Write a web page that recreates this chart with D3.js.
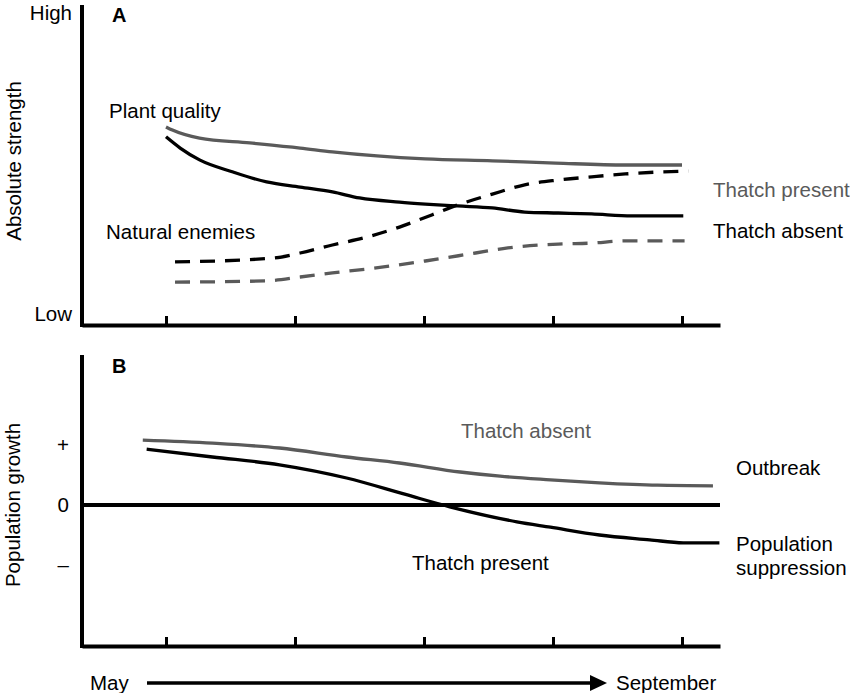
<!DOCTYPE html>
<html>
<head>
<meta charset="utf-8">
<script src="https://cdn.jsdelivr.net/npm/d3@7"></script>
<style>
  html, body { margin: 0; padding: 0; background: #fff; }
  svg text { font-family: "Liberation Sans", Arial, Helvetica, sans-serif; }
</style>
</head>
<body>
<svg id="chart" width="850" height="693"></svg>
<script>
// ---------- DATA (x = month index, 0 = May ... 4 = September) ----------
const monthTicks = [0, 1, 2, 3, 4];

// Panel A: absolute strength (0 = Low, 100 = High)
const plantThatchPresent_t = [0, 0.05, 0.26, 0.65, 1.04, 1.29, 2.01, 2.53, 3.02, 3.56, 4.0];
const plantThatchPresent_v = [61.9, 60.9, 58.4, 56.9, 55.3, 54.1, 51.9, 51.3, 50.6, 50.0, 50.0];

const plantThatchAbsent_t = [0, 0.11, 0.26, 0.52, 0.78, 1.04, 1.29, 1.5, 1.81, 2.01, 2.26, 2.53, 2.78, 3.04, 3.3, 3.61, 4.01];
const plantThatchAbsent_v = [58.8, 55.3, 51.6, 47.8, 44.7, 43.1, 41.6, 39.7, 38.4, 37.8, 37.2, 36.6, 35.3, 35.0, 34.7, 34.1, 34.1];

const enemiesThatchPresent_t = [0.07, 0.83, 1.04, 1.29, 1.56, 1.81, 2.06, 2.26, 2.53, 2.78, 3.04, 3.3, 3.56, 3.81, 4.05];
const enemiesThatchPresent_v = [19.7, 20.9, 22.5, 25.0, 27.5, 30.6, 34.4, 37.5, 40.9, 43.8, 45.3, 46.3, 47.2, 47.8, 48.1];

const enemiesThatchAbsent_t = [0.07, 0.78, 1.04, 1.29, 1.56, 2.01, 2.4, 2.65, 3.04, 3.3, 3.56, 4.02];
const enemiesThatchAbsent_v = [13.4, 13.8, 15.0, 16.3, 17.5, 20.0, 22.5, 24.1, 25.3, 25.6, 26.3, 26.3];

// Panel B: population growth (+1 = "+", 0, -1 = "–")
const growthThatchAbsent_t = [-0.18, 0.36, 0.88, 1.4, 1.81, 2.28, 2.59, 2.98, 3.36, 3.81, 4.24];
const growthThatchAbsent_v = [1.08, 1.03, 0.95, 0.80, 0.70, 0.55, 0.48, 0.42, 0.37, 0.33, 0.32];

const growthThatchPresent_t = [-0.15, 0.36, 0.88, 1.4, 1.85, 2.2, 2.72, 2.98, 3.36, 3.75, 4.01, 4.29];
const growthThatchPresent_v = [0.93, 0.80, 0.67, 0.45, 0.18, -0.03, -0.28, -0.37, -0.50, -0.58, -0.63, -0.63];

const strengthTickValues = [97.5, 3.4];
const strengthTickLabels = ["High", "Low"];
const growthTickValues = [1, 0, -1];
const growthTickLabels = ["+", "0", "\u2013"];

// ---------- CHART ----------
const svg = d3.select("#chart");
const BLACK = "#000";
const GRAY = "#5a5a5a";
const FS = 20.5;
const AXW = 4, LW = 3.3, TW = 3;

const zip = (t, v) => t.map((d, i) => ({ t: d, v: v[i] }));

// x scale: month index -> pixels; axis extends past first/last tick
const x0 = d3.scaleLinear().domain([0, 4]).range([166, 682]);
const x = d3.scaleLinear().domain([x0.invert(82), x0.invert(720)]).range([82, 720]);

function label(g, tx, ty, txt, opts = {}) {
  const t = g.append("text").attr("x", tx).attr("y", ty).text(txt)
    .attr("font-size", opts.size || FS).attr("fill", opts.fill || BLACK);
  if (opts.bold) t.attr("font-weight", "bold");
  if (opts.anchor) t.attr("text-anchor", opts.anchor);
  if (opts.rotate) t.attr("transform", `rotate(-90,${tx},${ty})`);
  return t;
}

// ---------- Panel A ----------
const yA = d3.scaleLinear().domain([0, 100]).range([325, 5]);
const gA = svg.append("g");

const lineA = d3.line().x(d => x(d.t)).y(d => yA(d.v)).curve(d3.curveMonotoneX);

gA.append("path").datum(zip(plantThatchPresent_t, plantThatchPresent_v))
  .attr("d", lineA).attr("fill", "none").attr("stroke", GRAY).attr("stroke-width", LW);
gA.append("path").datum(zip(plantThatchAbsent_t, plantThatchAbsent_v))
  .attr("d", lineA).attr("fill", "none").attr("stroke", BLACK).attr("stroke-width", LW);
gA.append("path").datum(zip(enemiesThatchPresent_t, enemiesThatchPresent_v))
  .attr("d", lineA).attr("fill", "none").attr("stroke", BLACK).attr("stroke-width", LW)
  .attr("stroke-dasharray", "15,10");
gA.append("path").datum(zip(enemiesThatchAbsent_t, enemiesThatchAbsent_v))
  .attr("d", lineA).attr("fill", "none").attr("stroke", GRAY).attr("stroke-width", LW)
  .attr("stroke-dasharray", "15,10");

const xAxisA = gA.append("g").attr("transform", `translate(0,${yA(0)})`)
  .call(d3.axisBottom(x).tickValues(monthTicks).tickSizeInner(-9).tickSizeOuter(0).tickFormat(""));
xAxisA.select(".domain").attr("stroke-width", AXW);
xAxisA.selectAll(".tick line").attr("stroke-width", TW);

const yAxisA = gA.append("g").attr("transform", `translate(${x.range()[0]},0)`)
  .call(d3.axisLeft(yA).tickValues(strengthTickValues).tickSize(0).tickPadding(10)
    .tickFormat((d, i) => strengthTickLabels[i]));
yAxisA.select(".domain").attr("stroke-width", AXW).attr("d", `M0,${yA(0) + 2}V${yA(100)}`);
yAxisA.selectAll(".tick text").attr("font-size", FS).attr("font-family", "Liberation Sans, Arial, sans-serif").attr("fill", BLACK);

label(gA, 112, 22, "A", { bold: true, size: 20 });
label(gA, 21, 161, "Absolute strength", { anchor: "middle", rotate: true });
label(gA, 109, 118, "Plant quality");
label(gA, 106, 239, "Natural enemies");
label(gA, 713, 197, "Thatch present", { fill: GRAY });
label(gA, 713, 238, "Thatch absent");

// ---------- Panel B ----------
const yB = d3.scaleLinear().domain([-1, 1]).range([565, 445]);
const gB = svg.append("g");
const yBTop = yB.invert(355), yBBottom = yB.invert(646);

const lineB = d3.line().x(d => x(d.t)).y(d => yB(d.v)).curve(d3.curveMonotoneX);
gB.append("path").datum(zip(growthThatchAbsent_t, growthThatchAbsent_v))
  .attr("d", lineB).attr("fill", "none").attr("stroke", GRAY).attr("stroke-width", LW);
gB.append("path").datum(zip(growthThatchPresent_t, growthThatchPresent_v))
  .attr("d", lineB).attr("fill", "none").attr("stroke", BLACK).attr("stroke-width", LW);

// zero line
gB.append("line").attr("x1", x.range()[0]).attr("x2", x.range()[1])
  .attr("y1", yB(0)).attr("y2", yB(0)).attr("stroke", BLACK).attr("stroke-width", AXW);

const xAxisB = gB.append("g").attr("transform", `translate(0,${yB(yBBottom)})`)
  .call(d3.axisBottom(x).tickValues(monthTicks).tickSizeInner(-9).tickSizeOuter(0).tickFormat(""));
xAxisB.select(".domain").attr("stroke-width", AXW);
xAxisB.selectAll(".tick line").attr("stroke-width", TW);

const yAxisB = gB.append("g").attr("transform", `translate(${x.range()[0]},0)`)
  .call(d3.axisLeft(yB).tickValues(growthTickValues).tickSize(0).tickPadding(13)
    .tickFormat((d, i) => growthTickLabels[i]));
yAxisB.select(".domain").attr("stroke-width", AXW).attr("d", `M0,${yB(yBBottom) + 2}V${yB(yBTop)}`);
yAxisB.selectAll(".tick text").attr("font-size", FS).attr("font-family", "Liberation Sans, Arial, sans-serif").attr("fill", BLACK);

label(gB, 112, 373, "B", { bold: true, size: 20 });
label(gB, 20, 505, "Population growth", { anchor: "middle", rotate: true });
label(gB, 461, 438, "Thatch absent", { fill: GRAY });
label(gB, 412, 570, "Thatch present");
label(gB, 736, 475, "Outbreak");
label(gB, 736, 551, "Population");
label(gB, 736, 575, "suppression");

// ---------- Time arrow ----------
const arrowY = 683;
svg.append("line").attr("x1", 147).attr("x2", 595).attr("y1", arrowY).attr("y2", arrowY)
  .attr("stroke", BLACK).attr("stroke-width", 3.5);
svg.append("path").attr("d", `M590,${arrowY - 8}L607,${arrowY}L590,${arrowY + 8}Z`).attr("fill", BLACK);
label(svg, 90, 690, "May");
label(svg, 616, 690, "September");
</script>
</body>
</html>
